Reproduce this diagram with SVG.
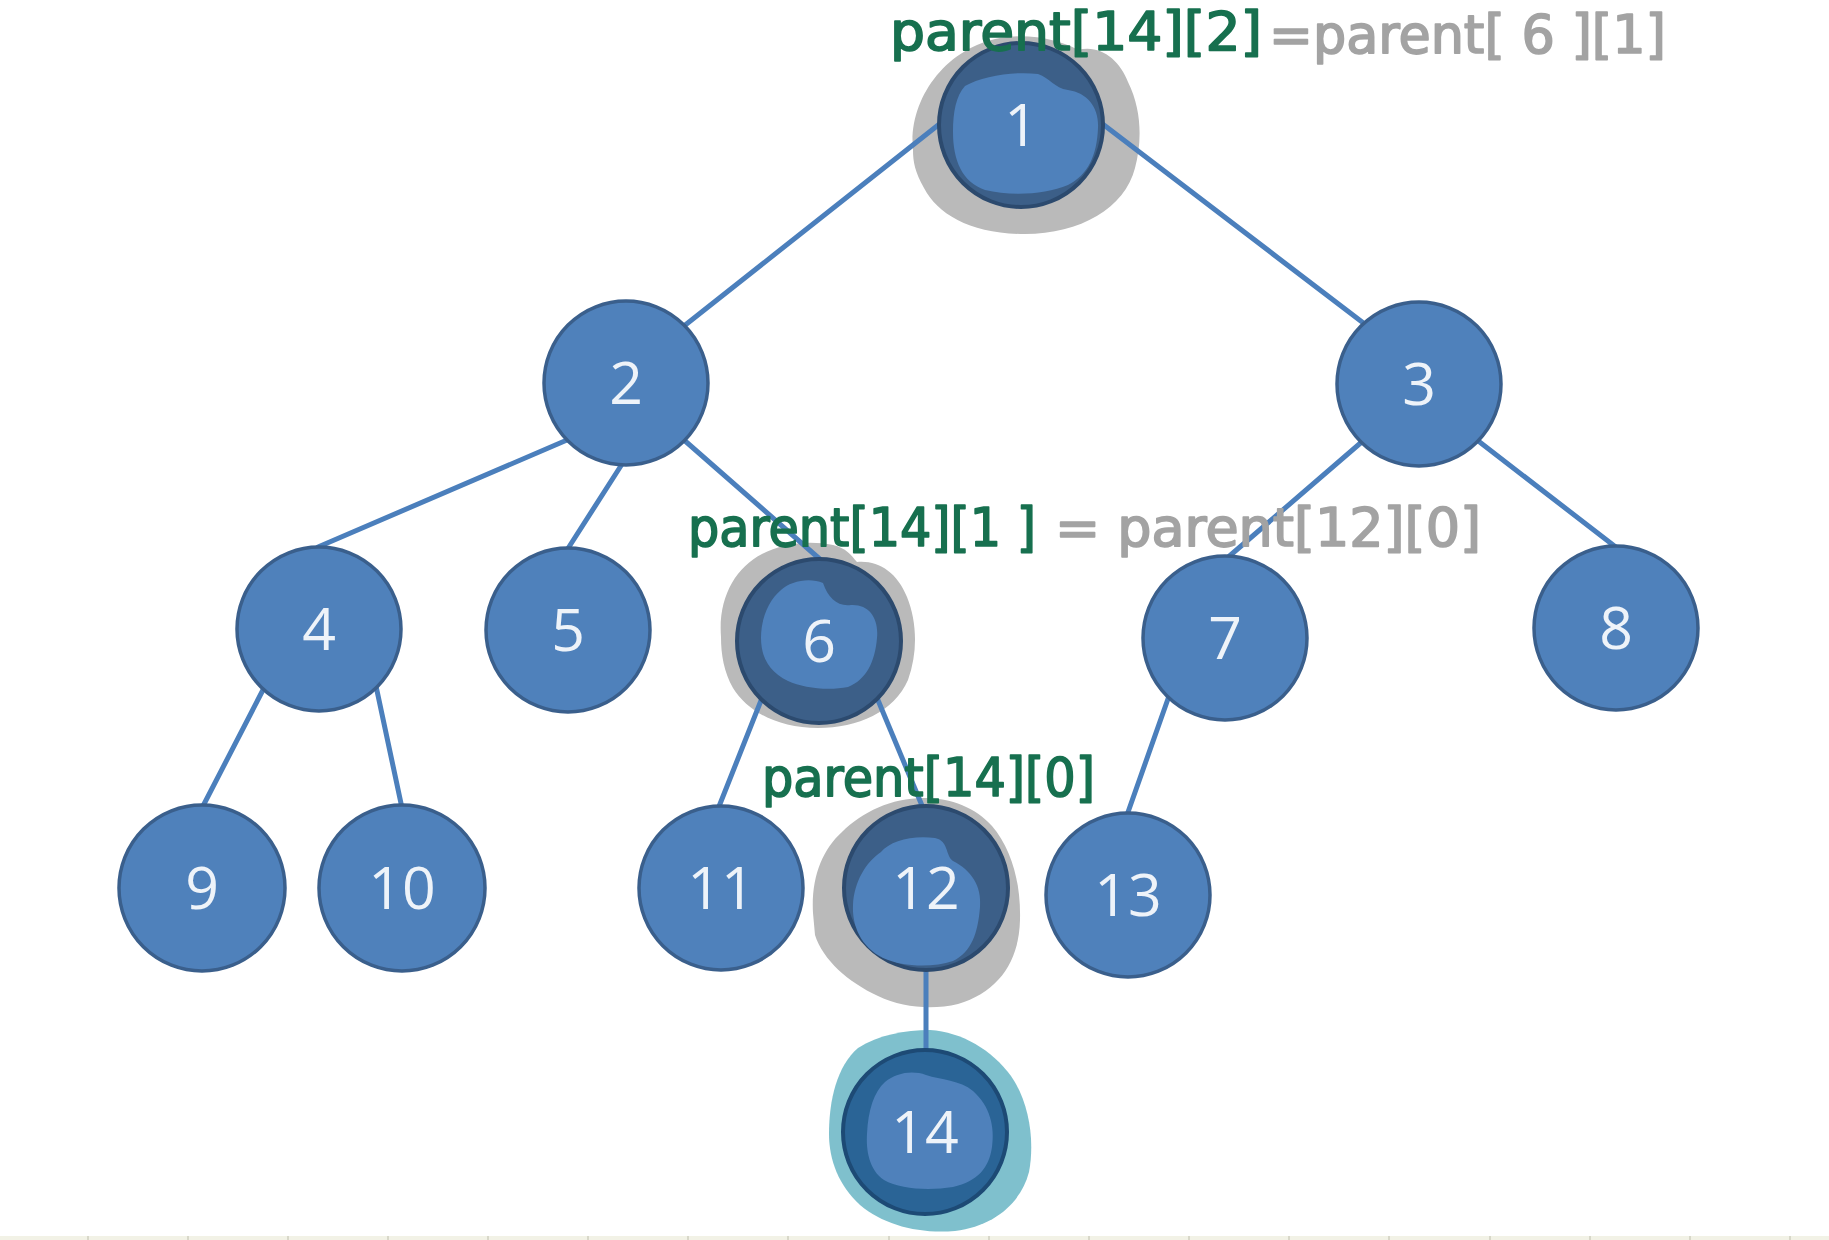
<svg xmlns="http://www.w3.org/2000/svg" width="1829" height="1240" viewBox="0 0 1829 1240">
<style>
.edge{stroke:#4b7fbc;stroke-width:5;stroke-linecap:round;fill:none}
.node{fill:#4f81bb;stroke:#3a5f8c;stroke-width:3.5}
.hnode{fill:#3c5f88;stroke:#2c4a6e;stroke-width:4}
.tnode{fill:#2a6496;stroke:#1d4a75;stroke-width:4}
.blob{fill:#4f81bb}
.halo{fill:#bababa}
.thalo{fill:#7fc0cd}
.num{font-family:'Open Sans','DejaVu Sans',sans-serif;font-size:59px;fill:#eef3f9;text-anchor:middle}
.hw{font-family:'DejaVu Sans Condensed','DejaVu Sans',sans-serif;font-size:54px;stroke-width:1.6;stroke-linejoin:round}
.green{fill:#17704f;stroke:#17704f}
.gray{fill:#a3a3a3;stroke:#a3a3a3}
.tick{stroke:#cfcfc0;stroke-width:1.5}
</style>
<rect width="1829" height="1240" fill="#ffffff"/>
<g id="ruler">
<rect x="0" y="1236" width="1829" height="4" fill="#f2f2e6"/>
<path class="tick" d="M88,1236V1240M188,1236V1240M288,1236V1240M388,1236V1240M488,1236V1240M588,1236V1240M688,1236V1240M788,1236V1240M889,1236V1240M989,1236V1240M1089,1236V1240M1189,1236V1240M1289,1236V1240M1389,1236V1240M1490,1236V1240M1590,1236V1240M1690,1236V1240M1790,1236V1240"/>
</g>
<g id="highlights">
<path class="halo" d="M913,150 C908,100 945,48 1000,38 C1030,33 1060,40 1078,50 C1100,44 1120,60 1128,82 C1142,110 1142,142 1135,168 C1125,208 1080,234 1025,234 C972,234 938,215 924,188 C915,172 913,162 913,150 Z"/>
<path class="halo" d="M721,637 C718,598 735,568 762,554 C782,543 810,540 833,545 C846,548 851,555 857,562 C878,560 897,572 907,597 C917,622 918,652 908,680 C894,712 858,728 818,728 C778,728 748,712 733,688 C724,672 721,655 721,637 Z"/>
<path class="halo" d="M813,913 C811,878 822,850 842,832 C862,812 892,798 923,798 C952,798 976,808 992,826 C1011,848 1021,882 1020,920 C1019,962 998,992 958,1004 C933,1010 903,1008 878,996 C848,982 823,960 815,935 Z"/>
<path class="thalo" d="M858,1048 C878,1035 905,1030 930,1030 C962,1032 992,1050 1011,1076 C1029,1102 1035,1140 1029,1172 C1021,1203 994,1226 955,1231 C918,1234 884,1225 860,1205 C839,1186 829,1160 829,1134 C829,1100 837,1066 858,1048 Z"/>
</g>
<g id="connectors">
<line class="edge" x1="942" y1="122" x2="684" y2="326"/>
<line class="edge" x1="1100" y1="122" x2="1366" y2="325"/>
<line class="edge" x1="567" y1="440" x2="318" y2="547"/>
<line class="edge" x1="624" y1="461" x2="567" y2="550"/>
<line class="edge" x1="684" y1="440" x2="822" y2="561"/>
<line class="edge" x1="1364" y1="440" x2="1226" y2="559"/>
<line class="edge" x1="1477" y1="440" x2="1617" y2="548"/>
<line class="edge" x1="265" y1="686" x2="202" y2="808"/>
<line class="edge" x1="376" y1="686" x2="402" y2="808"/>
<line class="edge" x1="764" y1="693" x2="718" y2="809"/>
<line class="edge" x1="875" y1="693" x2="923" y2="808"/>
<line class="edge" x1="1169" y1="696" x2="1127" y2="815"/>
<line class="edge" x1="926" y1="968" x2="926" y2="1052"/>
</g>
<g id="node-1">
<circle class="hnode" cx="1021" cy="125" r="82"/>
<path class="blob" d="M965,86 C982,76 1015,71 1038,74 C1050,78 1054,88 1068,90 C1088,93 1099,108 1098,128 C1097,155 1088,175 1068,185 C1045,195 1010,196 985,190 C962,182 953,160 953,132 C953,112 956,96 965,86 Z"/>
<text class="num" x="1021" y="146">1</text>
</g>
<g id="node-2"><circle class="node" cx="626" cy="383" r="82"/><text class="num" x="626" y="404">2</text></g>
<g id="node-3"><circle class="node" cx="1419" cy="384" r="82"/><text class="num" x="1419" y="405">3</text></g>
<g id="node-4"><circle class="node" cx="319" cy="629" r="82"/><text class="num" x="319" y="650">4</text></g>
<g id="node-5"><circle class="node" cx="568" cy="630" r="82"/><text class="num" x="568" y="651">5</text></g>
<g id="node-6">
<circle class="hnode" cx="819" cy="641" r="82"/>
<path class="blob" d="M781,590 C790,581 810,577 823,583 C828,598 838,607 851,605 C869,604 879,618 877,638 C875,662 866,680 848,687 C828,691 803,688 788,681 C770,672 761,658 761,638 C761,618 769,600 781,590 Z"/>
<text class="num" x="819" y="662">6</text>
</g>
<g id="node-7"><circle class="node" cx="1225" cy="638" r="82"/><text class="num" x="1225" y="659">7</text></g>
<g id="node-8"><circle class="node" cx="1616" cy="628" r="82"/><text class="num" x="1616" y="649">8</text></g>
<g id="node-9"><circle class="node" cx="202" cy="888" r="83"/><text class="num" x="202" y="909">9</text></g>
<g id="node-10"><circle class="node" cx="402" cy="888" r="83"/><text class="num" x="402" y="909">10</text></g>
<g id="node-11"><circle class="node" cx="721" cy="888" r="82"/><text class="num" x="721" y="909">11</text></g>
<g id="node-12">
<circle class="hnode" cx="926" cy="888" r="82"/>
<path class="blob" d="M881,852 C890,841 912,835 935,838 C949,841 945,855 953,861 C971,870 982,886 980,907 C978,932 972,952 953,961 C932,968 903,967 883,958 C861,947 852,926 853,905 C854,882 866,862 881,852 Z"/>
<text class="num" x="926" y="909">12</text>
</g>
<g id="node-13"><circle class="node" cx="1128" cy="895" r="82"/><text class="num" x="1128" y="916">13</text></g>
<g id="node-14">
<circle class="tnode" cx="925" cy="1132" r="82"/>
<path class="blob" d="M885,1082 C896,1073 912,1070 926,1075 C941,1080 960,1080 973,1091 C990,1106 995,1127 992,1147 C989,1168 978,1181 953,1187 C928,1191 900,1189 884,1180 C869,1170 866,1150 867,1134 C868,1110 874,1092 885,1082 Z"/>
<text class="num" x="925" y="1153">14</text>
</g>
<g id="annotations">
<text class="hw green" x="890" y="50" textLength="372" lengthAdjust="spacingAndGlyphs">parent[14][2]</text>
<text class="hw gray" x="1269" y="53" textLength="397" lengthAdjust="spacingAndGlyphs">=parent[ 6 ][1]</text>
<text class="hw green" x="688" y="546" textLength="348" lengthAdjust="spacingAndGlyphs">parent[14][1 ]</text>
<text class="hw gray" x="1055" y="546" textLength="426" lengthAdjust="spacingAndGlyphs">= parent[12][0]</text>
<text class="hw green" x="762" y="796" textLength="333" lengthAdjust="spacingAndGlyphs">parent[14][0]</text>
</g>
</svg>
